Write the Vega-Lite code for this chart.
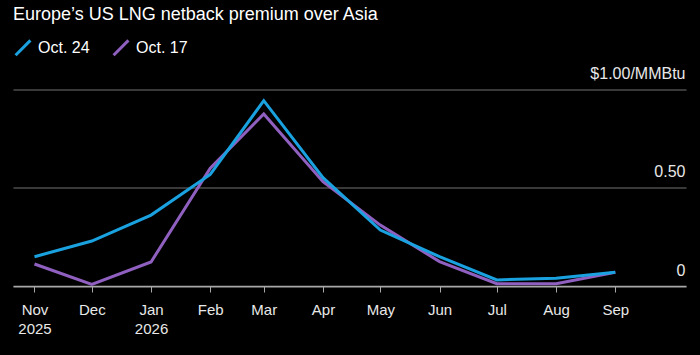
{
  "$schema": "https://vega.github.io/schema/vega-lite/v6.json",
  "width": 673,
  "height": 196.5,
  "autosize": {"type": "none"},
  "padding": {"left": 13, "top": 89.5, "right": 14, "bottom": 69},
  "background": "#000000",
  "title": {
    "text": "Europe’s US LNG netback premium over Asia",
    "anchor": "start",
    "frame": "group",
    "orient": "top",
    "offset": 15,
    "font": "Liberation Sans",
    "fontSize": 18,
    "fontWeight": "normal",
    "color": "#ffffff"
  },
  "config": {
    "view": {"stroke": null},
    "font": "Liberation Sans"
  },
  "data": {
    "values": [
      {"date": "2025-11-01", "series": "Oct. 17", "value": 0.112},
      {"date": "2025-12-01", "series": "Oct. 17", "value": 0.008},
      {"date": "2026-01-01", "series": "Oct. 17", "value": 0.122},
      {"date": "2026-02-01", "series": "Oct. 17", "value": 0.600},
      {"date": "2026-03-01", "series": "Oct. 17", "value": 0.875},
      {"date": "2026-04-01", "series": "Oct. 17", "value": 0.531},
      {"date": "2026-05-01", "series": "Oct. 17", "value": 0.310},
      {"date": "2026-06-01", "series": "Oct. 17", "value": 0.124},
      {"date": "2026-07-01", "series": "Oct. 17", "value": 0.012},
      {"date": "2026-08-01", "series": "Oct. 17", "value": 0.012},
      {"date": "2026-09-01", "series": "Oct. 17", "value": 0.070},
      {"date": "2025-11-01", "series": "Oct. 24", "value": 0.149},
      {"date": "2025-12-01", "series": "Oct. 24", "value": 0.229},
      {"date": "2026-01-01", "series": "Oct. 24", "value": 0.361},
      {"date": "2026-02-01", "series": "Oct. 24", "value": 0.568},
      {"date": "2026-03-01", "series": "Oct. 24", "value": 0.943},
      {"date": "2026-04-01", "series": "Oct. 24", "value": 0.551},
      {"date": "2026-05-01", "series": "Oct. 24", "value": 0.285},
      {"date": "2026-06-01", "series": "Oct. 24", "value": 0.149},
      {"date": "2026-07-01", "series": "Oct. 24", "value": 0.031},
      {"date": "2026-08-01", "series": "Oct. 24", "value": 0.039},
      {"date": "2026-09-01", "series": "Oct. 24", "value": 0.070}
    ]
  },
  "mark": {"type": "line", "strokeWidth": 3, "clip": false},
  "encoding": {
    "x": {
      "field": "date",
      "type": "temporal",
      "scale": {"type": "utc", "domain": [{"year": 2025, "month": 10, "date": 20, "hours": 18, "utc": true}, {"year": 2026, "month": 10, "date": 8, "utc": true}]},
      "axis": {
        "title": null,
        "values": [
          {"year": 2025, "month": 11, "date": 1, "utc": true},
          {"year": 2025, "month": 12, "date": 1, "utc": true},
          {"year": 2026, "month": 1, "date": 1, "utc": true},
          {"year": 2026, "month": 2, "date": 1, "utc": true},
          {"year": 2026, "month": 3, "date": 1, "utc": true},
          {"year": 2026, "month": 4, "date": 1, "utc": true},
          {"year": 2026, "month": 5, "date": 1, "utc": true},
          {"year": 2026, "month": 6, "date": 1, "utc": true},
          {"year": 2026, "month": 7, "date": 1, "utc": true},
          {"year": 2026, "month": 8, "date": 1, "utc": true},
          {"year": 2026, "month": 9, "date": 1, "utc": true}
        ],
        "labelExpr": "(utcmonth(datum.value) == 10 || utcmonth(datum.value) == 0) ? [utcFormat(datum.value, '%b'), utcFormat(datum.value, '%Y')] : utcFormat(datum.value, '%b')",
        "grid": false,
        "domainColor": "#a8a8a8",
        "domainWidth": 1.5,
        "tickColor": "#a8a8a8",
        "tickSize": 6,
        "tickWidth": 1,
        "labelColor": "#e8e8e8",
        "labelFontSize": 15,
        "labelFont": "Liberation Sans",
        "labelPadding": 10,
        "labelLineHeight": 19.5,
        "labelBaseline": "top",
        "labelFlush": false,
        "labelOverlap": false,
        "labelBound": false
      }
    },
    "y": {
      "field": "value",
      "type": "quantitative",
      "scale": {"domain": [0, 1], "nice": false, "zero": true},
      "axis": {
        "title": null,
        "orient": "right",
        "values": [0, 0.5, 1],
        "labelExpr": "datum.value == 1 ? '$1.00/MMBtu' : (datum.value == 0 ? '0' : '0.50')",
        "domain": false,
        "ticks": false,
        "tickSize": 0,
        "grid": true,
        "gridColor": "#4d4d4d",
        "gridWidth": 1.5,
        "labelAlign": "right",
        "labelBaseline": "alphabetic",
        "labelPadding": -1,
        "labelOffset": -11,
        "labelColor": "#e8e8e8",
        "labelFontSize": 16,
        "labelFont": "Liberation Sans",
        "labelFlush": false,
        "labelOverlap": false,
        "labelBound": false
      }
    },
    "color": {
      "field": "series",
      "type": "nominal",
      "scale": {"domain": ["Oct. 24", "Oct. 17"], "range": ["#1aa2e0", "#9060c0"]},
      "legend": {
        "title": null,
        "orient": "none",
        "legendX": 1,
        "legendY": -51,
        "direction": "horizontal",
        "symbolType": "M-1,1L1,-1",
        "symbolSize": 220,
        "symbolStrokeWidth": 3,
        "labelFontSize": 16,
        "labelFont": "Liberation Sans",
        "labelColor": "#ffffff",
        "labelOffset": 6,
        "columnPadding": 17
      }
    }
  }
}
